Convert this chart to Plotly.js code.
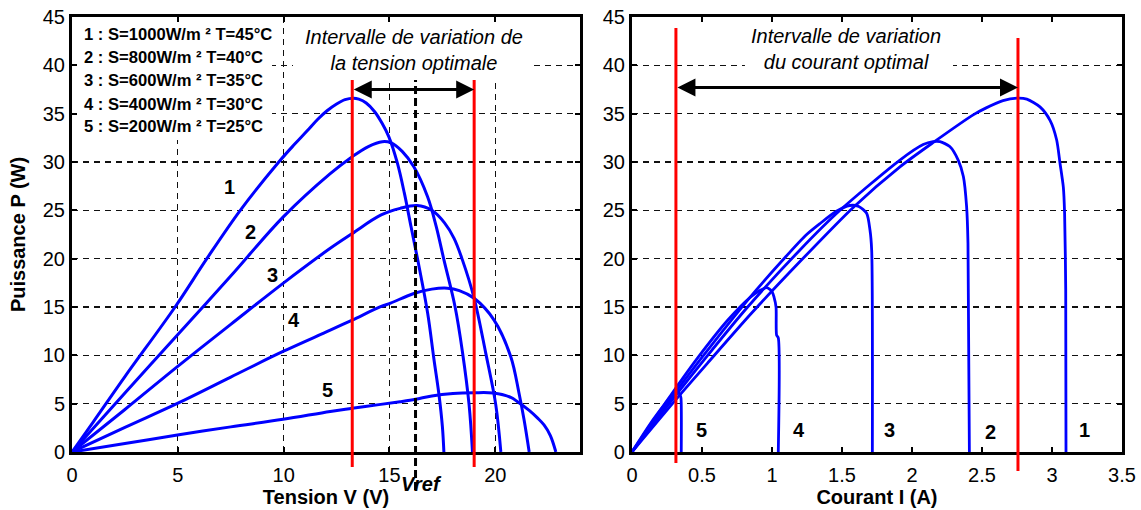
<!DOCTYPE html>
<html><head><meta charset="utf-8">
<script src="https://cdn.plot.ly/plotly-3.0.1.min.js"></script>
<style>html,body{margin:0;padding:0;background:#fff;}#chart{width:1141px;height:510px;}</style>
</head><body><div id="chart"></div>
<script>
// ---- Left plot: P-V curves (V in volts, P in watts) ----
const v1 = [0, 1, 2.5, 4.87, 6.37, 7.95, 9.77, 10.5, 11.1, 11.6, 12.05, 12.5, 12.9, 13.3, 13.55, 13.9, 14.3, 14.65, 14.97, 15.37, 15.7, 16.0, 16.35, 16.8, 17.1, 17.34, 17.5, 17.57];
const p1 = [0, 3.1, 7.8, 15.0, 20.0, 25.0, 30.0, 31.8, 33.2, 34.4, 35.3, 36.0, 36.45, 36.6, 36.5, 36.1, 35.2, 34.0, 32.6, 29.9, 26.8, 23.5, 19.7, 14.4, 9.6, 5.9, 2.6, 0];
const v2 = [0, 2.5, 4.98, 7.5, 9.97, 12.2, 13.24, 14.0, 14.66, 15.05, 15.6, 16.15, 16.8, 17.2, 17.57, 18.1, 18.45, 18.76, 18.92];
const p2 = [0, 6.1, 12.1, 18.2, 24.3, 28.8, 30.55, 31.6, 32.1, 32.0, 31.1, 29.5, 26.4, 23.4, 19.9, 15.0, 10.3, 4.9, 0];
const v3 = [0, 2.5, 4.98, 7.5, 9.97, 12.2, 13.24, 14.58, 15.5, 16.3, 17.0, 17.6, 18.05, 18.44, 19.0, 19.55, 20.02, 20.26];
const p3 = [0, 4.4, 8.83, 13.2, 17.45, 21.07, 22.6, 24.5, 25.2, 25.5, 25.0, 23.7, 22.1, 19.9, 15.9, 10.2, 4.9, 0];
const v4 = [0, 2.5, 4.98, 7.5, 9.97, 12.2, 13.24, 14.58, 15.05, 16.15, 17.0, 17.73, 18.3, 19.0, 19.94, 20.73, 21.12, 21.36, 21.6];
const p4 = [0, 2.55, 5.03, 7.75, 10.4, 12.6, 13.65, 15.03, 15.4, 16.4, 16.85, 16.95, 16.7, 15.9, 13.65, 9.86, 6.07, 3.3, 0];
const v5 = [0, 2.5, 4.98, 7.5, 9.97, 12.2, 13.24, 14.5, 15.5, 16.23, 17.0, 18.0, 19.0, 19.9, 20.73, 21.05, 21.6, 22.0, 22.3, 22.6, 22.86];
const p5 = [0, 0.88, 1.76, 2.6, 3.38, 4.2, 4.52, 4.9, 5.2, 5.45, 5.8, 6.05, 6.13, 6.1, 5.65, 5.2, 4.3, 3.5, 2.8, 1.7, 0];

// ---- Right plot: P-I curves (I in amperes, P in watts) ----
const i1 = [0, 0.33, 0.54, 0.85, 1.2, 1.58, 1.914, 2.15, 2.44, 2.53, 2.65, 2.75, 2.82, 2.914, 2.986, 3.033, 3.057, 3.081, 3.09, 3.098, 3.1];
const q1 = [0, 5.7, 9.2, 14.3, 19.7, 25.3, 29.5, 32.0, 34.9, 35.6, 36.35, 36.6, 36.5, 35.7, 34.3, 32.3, 29.9, 27.4, 24.7, 16.8, 0];
const i2 = [0, 0.26, 0.535, 0.82, 1.2, 1.486, 1.914, 2.08, 2.15, 2.2, 2.27, 2.33, 2.367, 2.39, 2.40, 2.41];
const q2 = [0, 4.9, 9.9, 14.9, 20.9, 25.0, 30.2, 31.8, 32.1, 32.1, 31.6, 30.2, 28.5, 25.4, 21.6, 0];
const i3 = [0, 0.243, 0.504, 0.837, 1.077, 1.24, 1.34, 1.46, 1.555, 1.62, 1.676, 1.70, 1.712, 1.717];
const q3 = [0, 4.86, 9.86, 15.9, 19.86, 22.4, 23.6, 24.9, 25.5, 25.4, 24.7, 22.96, 20.9, 0];
const i4 = [0, 0.155, 0.287, 0.476, 0.685, 0.837, 0.913, 0.962, 1.0, 1.015, 1.029, 1.033, 1.045, 1.045];
const q4 = [0, 3.3, 6.07, 9.86, 13.65, 15.9, 16.7, 17.0, 16.6, 16.0, 15.0, 12.1, 11.8, 0];
const i5 = [0, 0.066, 0.133, 0.2, 0.239, 0.27, 0.307, 0.323, 0.337, 0.345, 0.35, 0.352];
const q5 = [0, 1.5, 2.97, 4.3, 5.03, 5.6, 6.1, 6.13, 6.07, 5.85, 5.6, 0];

// ---- Optimal intervals ----
const vOptBounds = [13.24, 19.0];   // V
const vRef = 16.23;                 // V
const iOptBounds = [0.314, 2.757];  // A

// ---- Texts ----
const legendLines = [
  '1 : S=1000W/m ² T=45°C',
  '2 : S=800W/m ² T=40°C',
  '3 : S=600W/m ² T=35°C',
  '4 : S=400W/m ² T=30°C',
  '5 : S=200W/m ² T=25°C'
];
const curveNames = ['1', '2', '3', '4', '5'];
const xTicksLeft = [0, 5, 10, 15, 20];
const xTicksRight = [0, 0.5, 1, 1.5, 2, 2.5, 3, 3.5];
const yTicks = [0, 5, 10, 15, 20, 25, 30, 35, 40, 45];

// label anchor points (data coords) for curve numbers
const leftLabelV = [7.46, 8.41, 9.47, 10.49, 12.09];
const leftLabelP = [27.4, 22.75, 18.3, 13.65, 6.41];
const rightLabelI = [3.23, 2.56, 1.84, 1.19, 0.50];
const rightLabelP = [2.3, 2.1, 2.3, 2.3, 2.3];

const FONT = '"Liberation Sans", Arial, Helvetica, sans-serif';
const BLUE = '#0000FF';
const RED = '#FF0000';

const leftV = [v1, v2, v3, v4, v5], leftP = [p1, p2, p3, p4, p5];
const rightI = [i1, i2, i3, i4, i5], rightP = [q1, q2, q3, q4, q5];

const traces = [];
for (let k = 0; k < 5; k++) {
  traces.push({x: leftV[k], y: leftP[k], xaxis: 'x', yaxis: 'y', type: 'scatter', mode: 'lines',
    line: {color: BLUE, width: 3, shape: 'spline', smoothing: 1.0}, hoverinfo: 'skip', showlegend: false});
}
for (let k = 0; k < 5; k++) {
  traces.push({x: rightI[k], y: rightP[k], xaxis: 'x2', yaxis: 'y2', type: 'scatter', mode: 'lines',
    line: {color: BLUE, width: 2.8, shape: 'spline', smoothing: 0.7}, hoverinfo: 'skip', showlegend: false});
}

const axisBase = {
  showline: true, linecolor: '#000', linewidth: 3, mirror: 'ticks',
  ticks: 'inside', ticklen: 5, tickwidth: 2, tickcolor: '#000',
  tickfont: {family: FONT, size: 20, color: '#000'},
  zeroline: false, gridcolor: '#111', griddash: '6px,5px', gridwidth: 1.1,
  fixedrange: true
};

const shapes = [
  // white background boxes (between grid and traces)
  {type: 'rect', xref: 'x', yref: 'y', x0: 0.19, x1: 9.45, y0: 32.27, y1: 44.7, fillcolor: '#fff', line: {width: 0}, layer: 'between'},
  {type: 'rect', xref: 'x', yref: 'y', x0: 10.44, x1: 21.78, y0: 38.48, y1: 44.7, fillcolor: '#fff', line: {width: 0}, layer: 'between'},
  {type: 'rect', xref: 'x2', yref: 'y2', x0: 0.807, x1: 2.293, y0: 38.5, y1: 44.7, fillcolor: '#fff', line: {width: 0}, layer: 'between'},
  // red bounds left
  {type: 'line', xref: 'x', yref: 'paper', x0: vOptBounds[0], x1: vOptBounds[0], y0: -0.0345, y1: 0.855, line: {color: RED, width: 3}},
  {type: 'line', xref: 'x', yref: 'paper', x0: vOptBounds[1], x1: vOptBounds[1], y0: -0.0345, y1: 0.855, line: {color: RED, width: 3}},
  // Vref dashed
  {type: 'line', xref: 'x', yref: 'paper', x0: vRef, x1: vRef, y0: -0.0874, y1: 0.855, line: {color: '#000', width: 3, dash: '8px,4px'}},
  // red bounds right
  {type: 'line', xref: 'x2', yref: 'paper', x0: iOptBounds[0], x1: iOptBounds[0], y0: -0.0253, y1: 0.9747, line: {color: RED, width: 3}},
  {type: 'line', xref: 'x2', yref: 'paper', x0: iOptBounds[1], x1: iOptBounds[1], y0: -0.0437, y1: 0.9517, line: {color: RED, width: 3}}
];

const annotations = [];
const legendY = [43.24, 40.81, 38.38, 36.0, 33.72];
legendLines.forEach((t, k) => annotations.push({xref: 'x', yref: 'y', x: 0.47, y: legendY[k], xanchor: 'left', yanchor: 'middle',
  text: '<b>' + t + '</b>', showarrow: false, font: {family: FONT, size: 16.6, color: '#000'}}));
annotations.push({xref: 'x', yref: 'y', x: 16.14, y: 41.6, xanchor: 'center', yanchor: 'middle',
  text: '<i>Intervalle de variation de<br>la tension optimale</i>', showarrow: false, font: {family: FONT, size: 20, color: '#000'}});
annotations.push({xref: 'x2', yref: 'y2', x: 1.53, y: 41.7, xanchor: 'center', yanchor: 'middle',
  text: '<i>Intervalle de variation<br>du courant optimal</i>', showarrow: false, font: {family: FONT, size: 20, color: '#000'}});
// arrows
annotations.push({xref: 'x', yref: 'y', axref: 'x', ayref: 'y', x: vOptBounds[1], y: 37.5, ax: vOptBounds[0], ay: 37.5,
  text: '', showarrow: true, arrowhead: 2, arrowside: 'end+start', arrowsize: 1.2, arrowwidth: 3, arrowcolor: '#000', standoff: 0, startstandoff: 0});
annotations.push({xref: 'x2', yref: 'y2', axref: 'x2', ayref: 'y2', x: iOptBounds[1], y: 37.7, ax: iOptBounds[0], ay: 37.7,
  text: '', showarrow: true, arrowhead: 2, arrowside: 'end+start', arrowsize: 1.2, arrowwidth: 3, arrowcolor: '#000', standoff: 0, startstandoff: 0});
// Vref label
annotations.push({xref: 'x', yref: 'paper', x: 16.52, y: -0.0736, xanchor: 'center', yanchor: 'middle',
  text: '<b><i>Vref</i></b>', showarrow: false, font: {family: FONT, size: 20, color: '#000'}});
// curve numbers
curveNames.forEach((n, k) => {
  annotations.push({xref: 'x', yref: 'y', x: leftLabelV[k], y: leftLabelP[k], text: '<b>' + n + '</b>', showarrow: false,
    font: {family: FONT, size: 20, color: '#000'}});
  annotations.push({xref: 'x2', yref: 'y2', x: rightLabelI[k], y: rightLabelP[k], text: '<b>' + n + '</b>', showarrow: false,
    font: {family: FONT, size: 20, color: '#000'}});
});

const layout = {
  width: 1141, height: 510,
  margin: {l: 72, r: 19, t: 17, b: 58, pad: 0},
  paper_bgcolor: '#fff', plot_bgcolor: '#fff',
  font: {family: FONT, color: '#000'},
  showlegend: false,
  xaxis: Object.assign({}, axisBase, {domain: [0, 0.4838], range: [0, 24], tickvals: xTicksLeft, showgrid: true,
    ticklabelstandoff: 3,
    title: {text: '<b>Tension V (V)</b>', font: {family: FONT, size: 20, color: '#000'}, standoff: 0}}),
  yaxis: Object.assign({}, axisBase, {range: [0, 45], tickvals: yTicks, showgrid: true,
    title: {text: '<b>Puissance P (W)</b>', font: {family: FONT, size: 20, color: '#000'}, standoff: 12}}),
  xaxis2: Object.assign({}, axisBase, {domain: [0.5333, 1], range: [0, 3.5], tickvals: xTicksRight, showgrid: false, anchor: 'y2',
    ticklabelstandoff: 3,
    title: {text: '<b>Courant I (A)</b>', font: {family: FONT, size: 20, color: '#000'}, standoff: 0}}),
  yaxis2: Object.assign({}, axisBase, {range: [0, 45], tickvals: yTicks, showgrid: true, anchor: 'x2'}),
  shapes: shapes,
  annotations: annotations
};

Plotly.newPlot('chart', traces, layout, {displayModeBar: false, staticPlot: true});
</script></body></html>
